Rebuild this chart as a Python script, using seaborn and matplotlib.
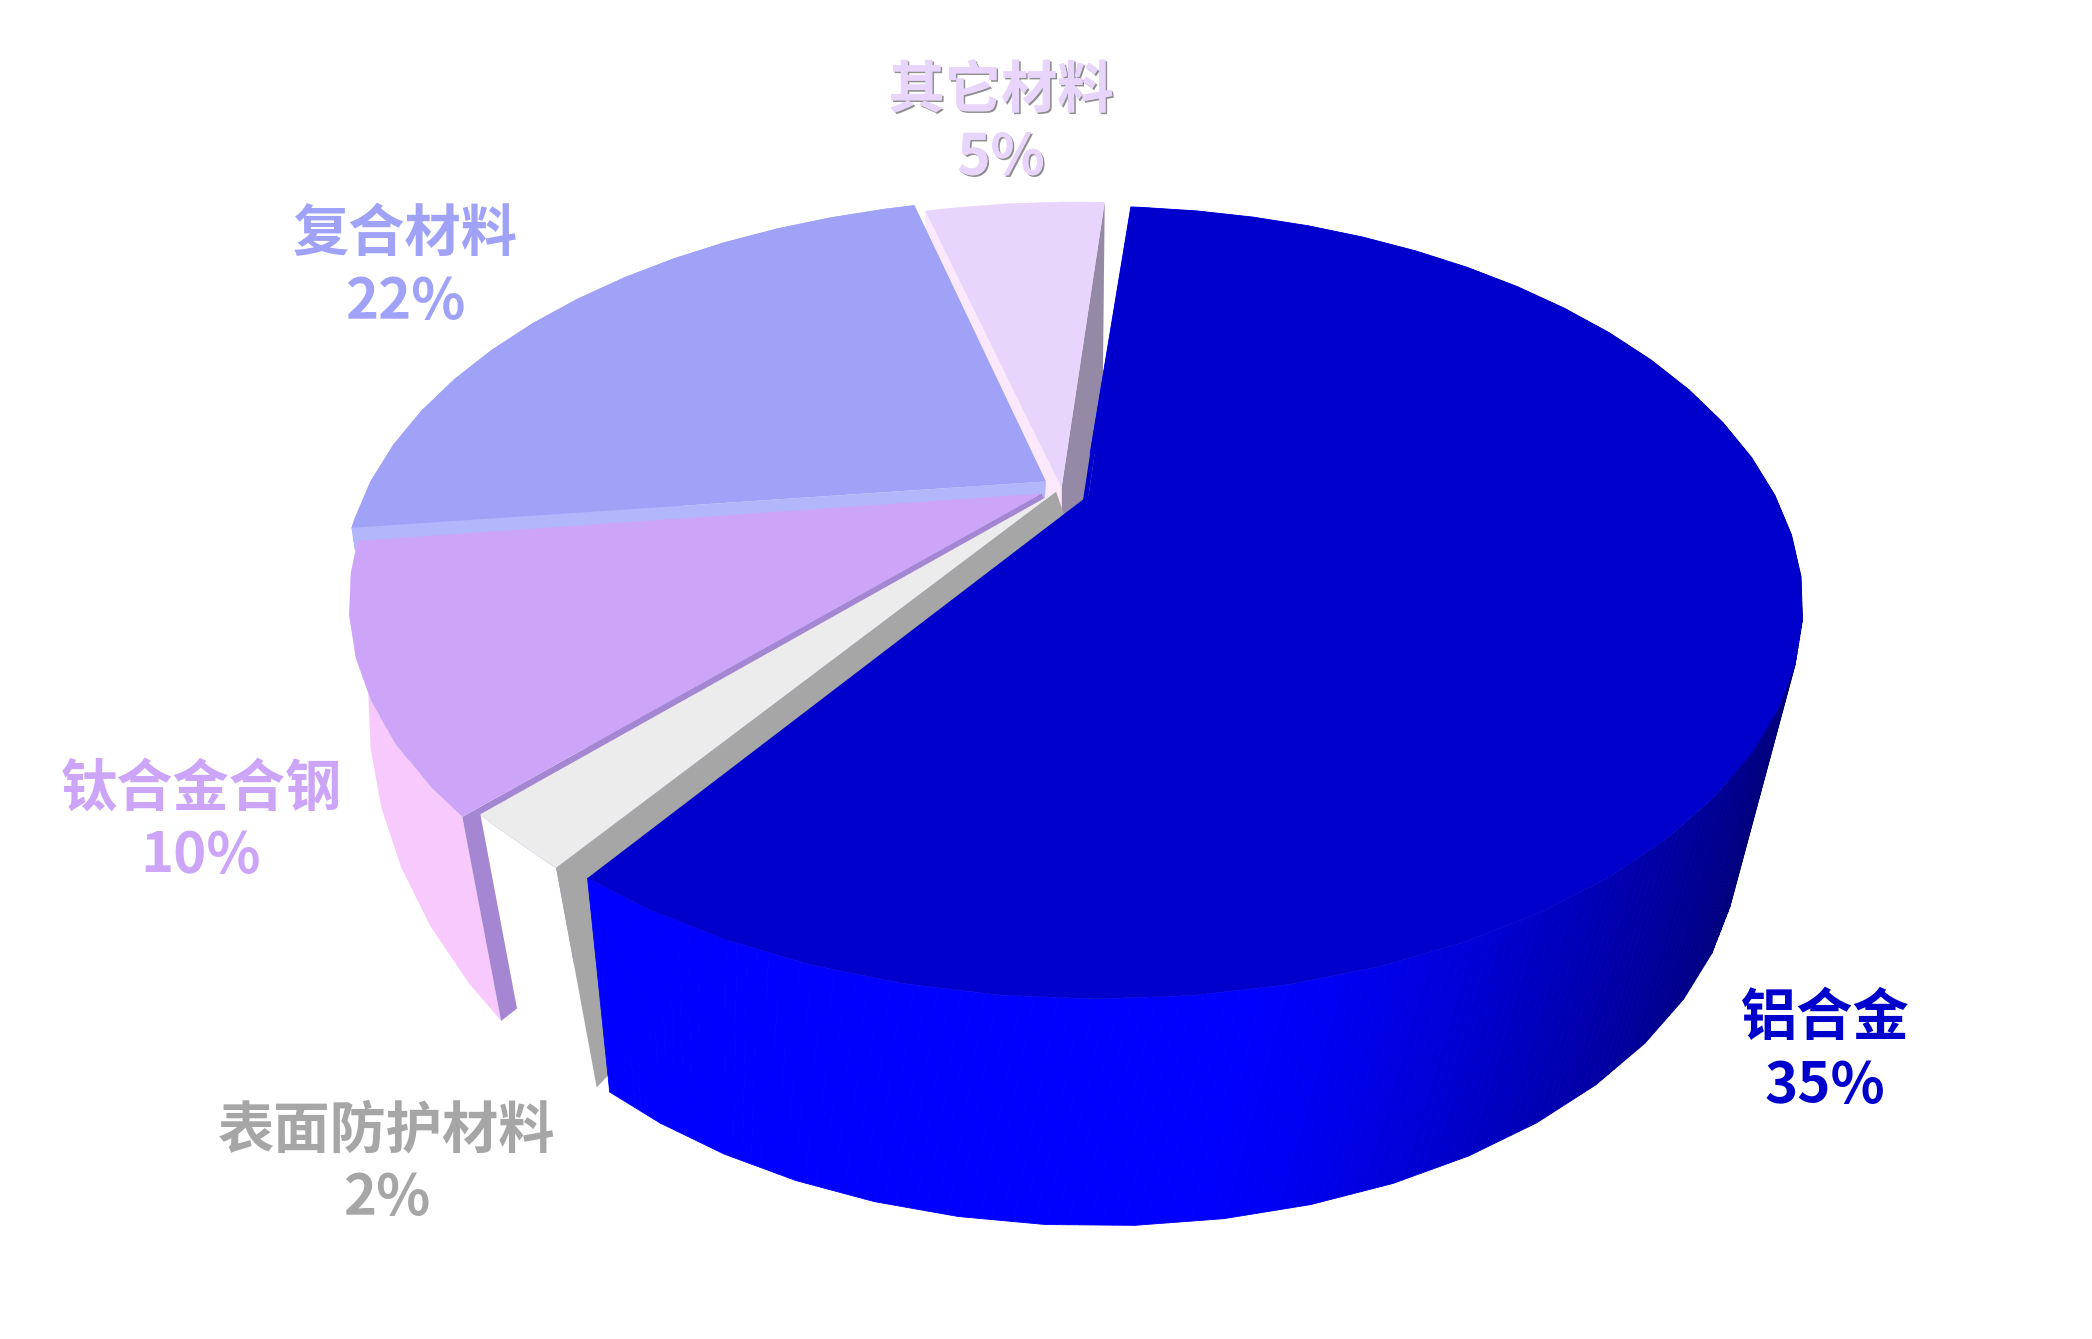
import numpy as np
import matplotlib
matplotlib.use("Agg")
import matplotlib.pyplot as plt
import matplotlib.patheffects as pe
import seaborn as sns

# data: printed labels, and the shares the drawn sectors really occupy
categories = ["铝合金", "表面防护材料", "钛合金合钢", "复合材料", "其它材料"]
printed_percent = [35, 2, 10, 22, 5]
sector_share = [58.48, 2.31, 10.86, 22.88, 5.37]

top_colors = ["#0000CC", "#ECECEC", "#CDA5F8", "#A0A2F8", "#E8D5FC"]
wall_colors = ["#0000FF", "#FFFFFF", "#F7C9FC", "#B2B6FA", "#FBE8FD"]
start_wall_colors = ["#0000CC", "#A6A6A6", "#A586D2", "#B2B6FA", "#FBE8FD"]
text_colors = ["#0000CC", "#A6A6A6", "#CDA5F8", "#A0A2F8", "#E8D5FC"]
label_pos = [(1825, 1018), (387, 1131), (201, 789), (405, 234), (1001, 91)]
explode = [(0.028, -0.010), (-0.002, 0.0), (-0.023, -0.005), (-0.040, 0.028), (0.006, 0.010)]
top_skew = [-0.005, -0.022, -0.022, 0.0, -0.022]

W, H = 2092, 1339
sns.set_theme(style="white")
plt.rcParams["font.family"] = ["Noto Sans CJK SC", "DejaVu Sans"]
palette = sns.color_palette(top_colors)

fig = plt.figure(figsize=(W / 100, H / 100), dpi=100)
ax = fig.add_axes([0, 0, 1, 1])
ax.set_xlim(0, W)
ax.set_ylim(H, 0)
ax.axis("off")

# projection of the tilted disc
TOP = dict(cx=1073, cy=598, rx=707, ry=394, vy=0.27)
BOT_MAIN = dict(cx=1075, cy=835, rx=640, ry=383, vy=0.27)
BOT_FRONT = dict(cx=1102, cy=696, rx=717, ry=550, vy=0.22)
BOT_REAR = dict(cx=1072, cy=828, rx=672, ry=378, vy=0.27)
bottoms = [BOT_MAIN, BOT_FRONT, BOT_FRONT, BOT_REAR, BOT_REAR]
bottom_skew = [-0.07, -0.022, -0.022, -0.022, -0.022]
START = 4.9
FACET = 6.0


def project(x, y, lv, vx):
    x, y = np.asarray(x, float), np.asarray(y, float)
    vy = lv["vy"]
    g = 1 / np.sqrt(1 - vx ** 2 - vy ** 2)
    dot = vx * x + vy * y
    d = 1 + dot
    k = 1 + g / (g + 1) * dot
    xx = (x / g + vx * k) / d
    yy = (y / g + vy * k) / d
    return lv["cx"] + lv["rx"] * xx, lv["cy"] - lv["ry"] * yy


def rim_points(t0, t1):
    grid = np.arange(np.ceil(t0 / FACET), np.floor(t1 / FACET) + 1) * FACET
    return np.unique(np.r_[t0, grid, t1])


def lerp(a, b, f):
    a, b = np.array(matplotlib.colors.to_rgb(a)), np.array(matplotlib.colors.to_rgb(b))
    return a + (b - a) * f


spans = []
acc = START
for s in sector_share:
    spans.append((acc, acc + s * 3.6))
    acc += s * 3.6


def draw_slice(i):
    t0, t1 = spans[i]
    ox, oy = explode[i]
    BOT, bv, tv = bottoms[i], bottom_skew[i], top_skew[i]
    th = np.radians(rim_points(t0, t1))
    rx_, ry_ = ox + np.sin(th), oy + np.cos(th)
    tx, ty = project(rx_, ry_, TOP, tv)
    bx, by = project(rx_, ry_, BOT, bv)
    ax0, ay0 = project(ox, oy, TOP, tv)
    bx0, by0 = project(ox, oy, BOT, bv)

    # outer wall
    if i == 0:
        n = 8
        for k in range(len(tx) - 1):
            for f0 in np.linspace(0, 1, n, endpoint=False):
                f1 = f0 + 1 / n
                qx = [tx[k] + (tx[k+1]-tx[k])*f0, tx[k] + (tx[k+1]-tx[k])*f1,
                      bx[k] + (bx[k+1]-bx[k])*f1, bx[k] + (bx[k+1]-bx[k])*f0]
                qy = [ty[k] + (ty[k+1]-ty[k])*f0, ty[k] + (ty[k+1]-ty[k])*f1,
                      by[k] + (by[k+1]-by[k])*f1, by[k] + (by[k+1]-by[k])*f0]
                g = np.clip((np.mean(qx[2:]) - 1180) / (1740 - 1180), 0, 1)
                c = lerp("#0000FF", "#000078", g ** 1.3)
                ax.fill(qx, qy, color=c, lw=0.6)
    else:
        ax.fill(np.r_[tx, bx[::-1]], np.r_[ty, by[::-1]], color=wall_colors[i], lw=0)

    # radial walls
    if i == 4:
        ax.fill([ax0, tx[-1], bx[-1], bx0], [ay0, ty[-1], by[-1], by0], color="#958AA6", lw=0)
    ax.fill([ax0, tx[0], bx[0], bx0], [ay0, ty[0], by[0], by0], color=start_wall_colors[i], lw=0)

    # top face
    ax.fill(np.r_[ax0, tx], np.r_[ay0, ty], color=palette[i], lw=0)


for i in [4, 3, 2, 1, 0]:
    draw_slice(i)

for i, (name, val, col, (lx, ly)) in enumerate(zip(categories, printed_percent, text_colors, label_pos)):
    effects = None
    if i == 4:
        effects = [pe.withSimplePatchShadow(offset=(1.2, -1.2), shadow_rgbFace="#444444", alpha=0.6), pe.Normal()]
    for txt, yy in ((name, ly), (f"{val}%", ly + 67)):
        t = ax.text(lx, yy, txt, ha="center", va="center", fontsize=40.5, fontweight="bold", color=col)
        if effects:
            t.set_path_effects(effects)

fig.savefig("out.png", dpi=100, facecolor="white")
